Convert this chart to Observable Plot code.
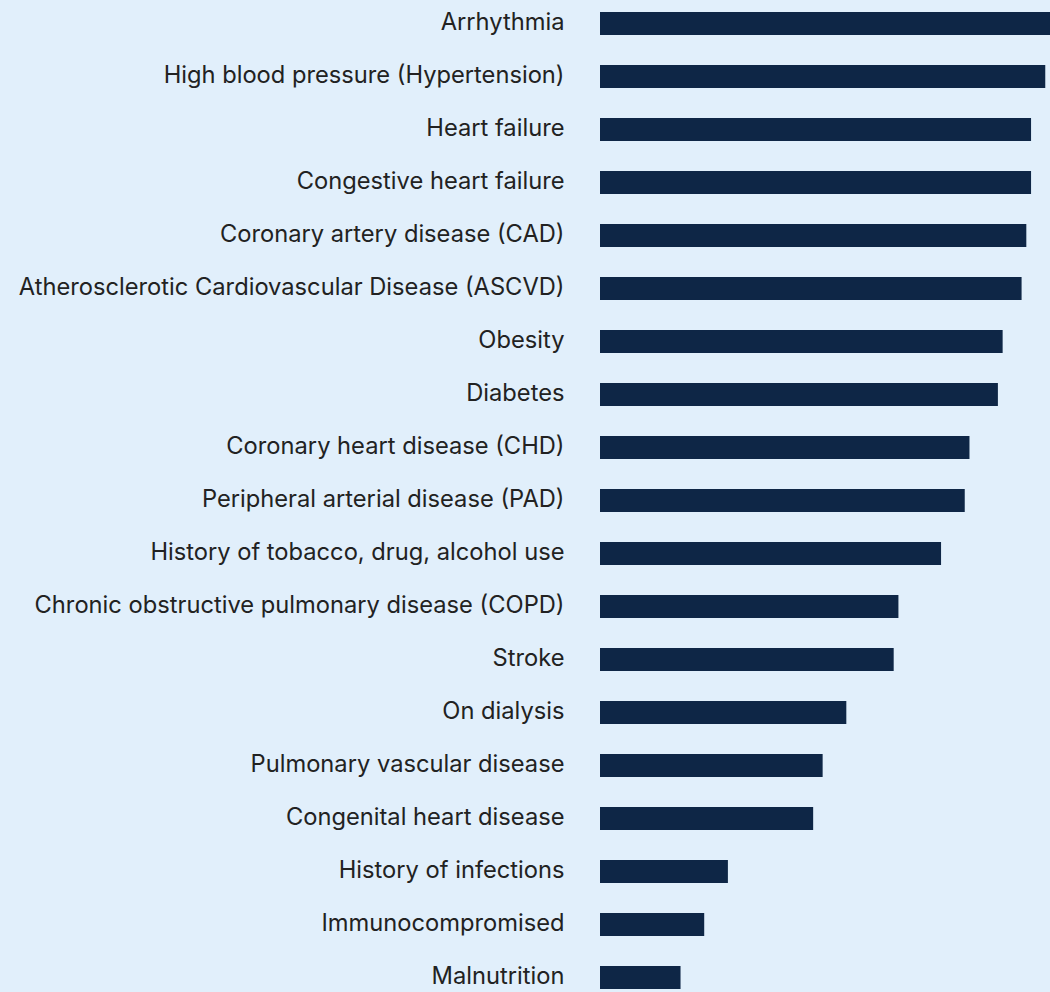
<!DOCTYPE html>
<html>
<head>
<meta charset="utf-8">
<script src="https://cdn.jsdelivr.net/npm/d3@7"></script>
<script src="https://cdn.jsdelivr.net/npm/@observablehq/plot@0.6"></script>
<style>
  html, body { margin: 0; padding: 0; background: #E1EFFB; }
  #chart svg { display: block; }
</style>
</head>
<body>
<div id="chart"></div>
<script>
const conditions = [
  "Arrhythmia",
  "High blood pressure (Hypertension)",
  "Heart failure",
  "Congestive heart failure",
  "Coronary artery disease (CAD)",
  "Atherosclerotic Cardiovascular Disease (ASCVD)",
  "Obesity",
  "Diabetes",
  "Coronary heart disease (CHD)",
  "Peripheral arterial disease (PAD)",
  "History of tobacco, drug, alcohol use",
  "Chronic obstructive pulmonary disease (COPD)",
  "Stroke",
  "On dialysis",
  "Pulmonary vascular disease",
  "Congenital heart disease",
  "History of infections",
  "Immunocompromised",
  "Malnutrition"
];
const values = [95, 94, 91, 91, 90, 89, 85, 84, 78, 77, 72, 63, 62, 52, 47, 45, 27, 22, 17];

const data = conditions.map((c, i) => ({condition: c, value: values[i]}));

const chart = Plot.plot({
  width: 1050,
  height: 992,
  marginLeft: 600,
  marginRight: 0,
  marginTop: 0,
  marginBottom: 0,
  style: {
    background: "#E1EFFB",
    fontFamily: "Inter, 'Noto Sans', sans-serif",
    fontSize: "23.7px",
    color: "#222222"
  },
  x: {domain: [0, 95], axis: null},
  y: {
    domain: conditions,
    range: [-4.2, 1005.7],
    paddingInner: 0.56,
    paddingOuter: 0.28,
    label: null,
    axis: null
  },
  marks: [
    Plot.barX(data, {x: "value", y: "condition", fill: "#0E2646"}),
    Plot.axisY({tickSize: 0, tickPadding: 36, label: null, fontSize: 23.7, fill: "#222222", dy: -2})
  ]
});
document.getElementById("chart").append(chart);
</script>
</body>
</html>
